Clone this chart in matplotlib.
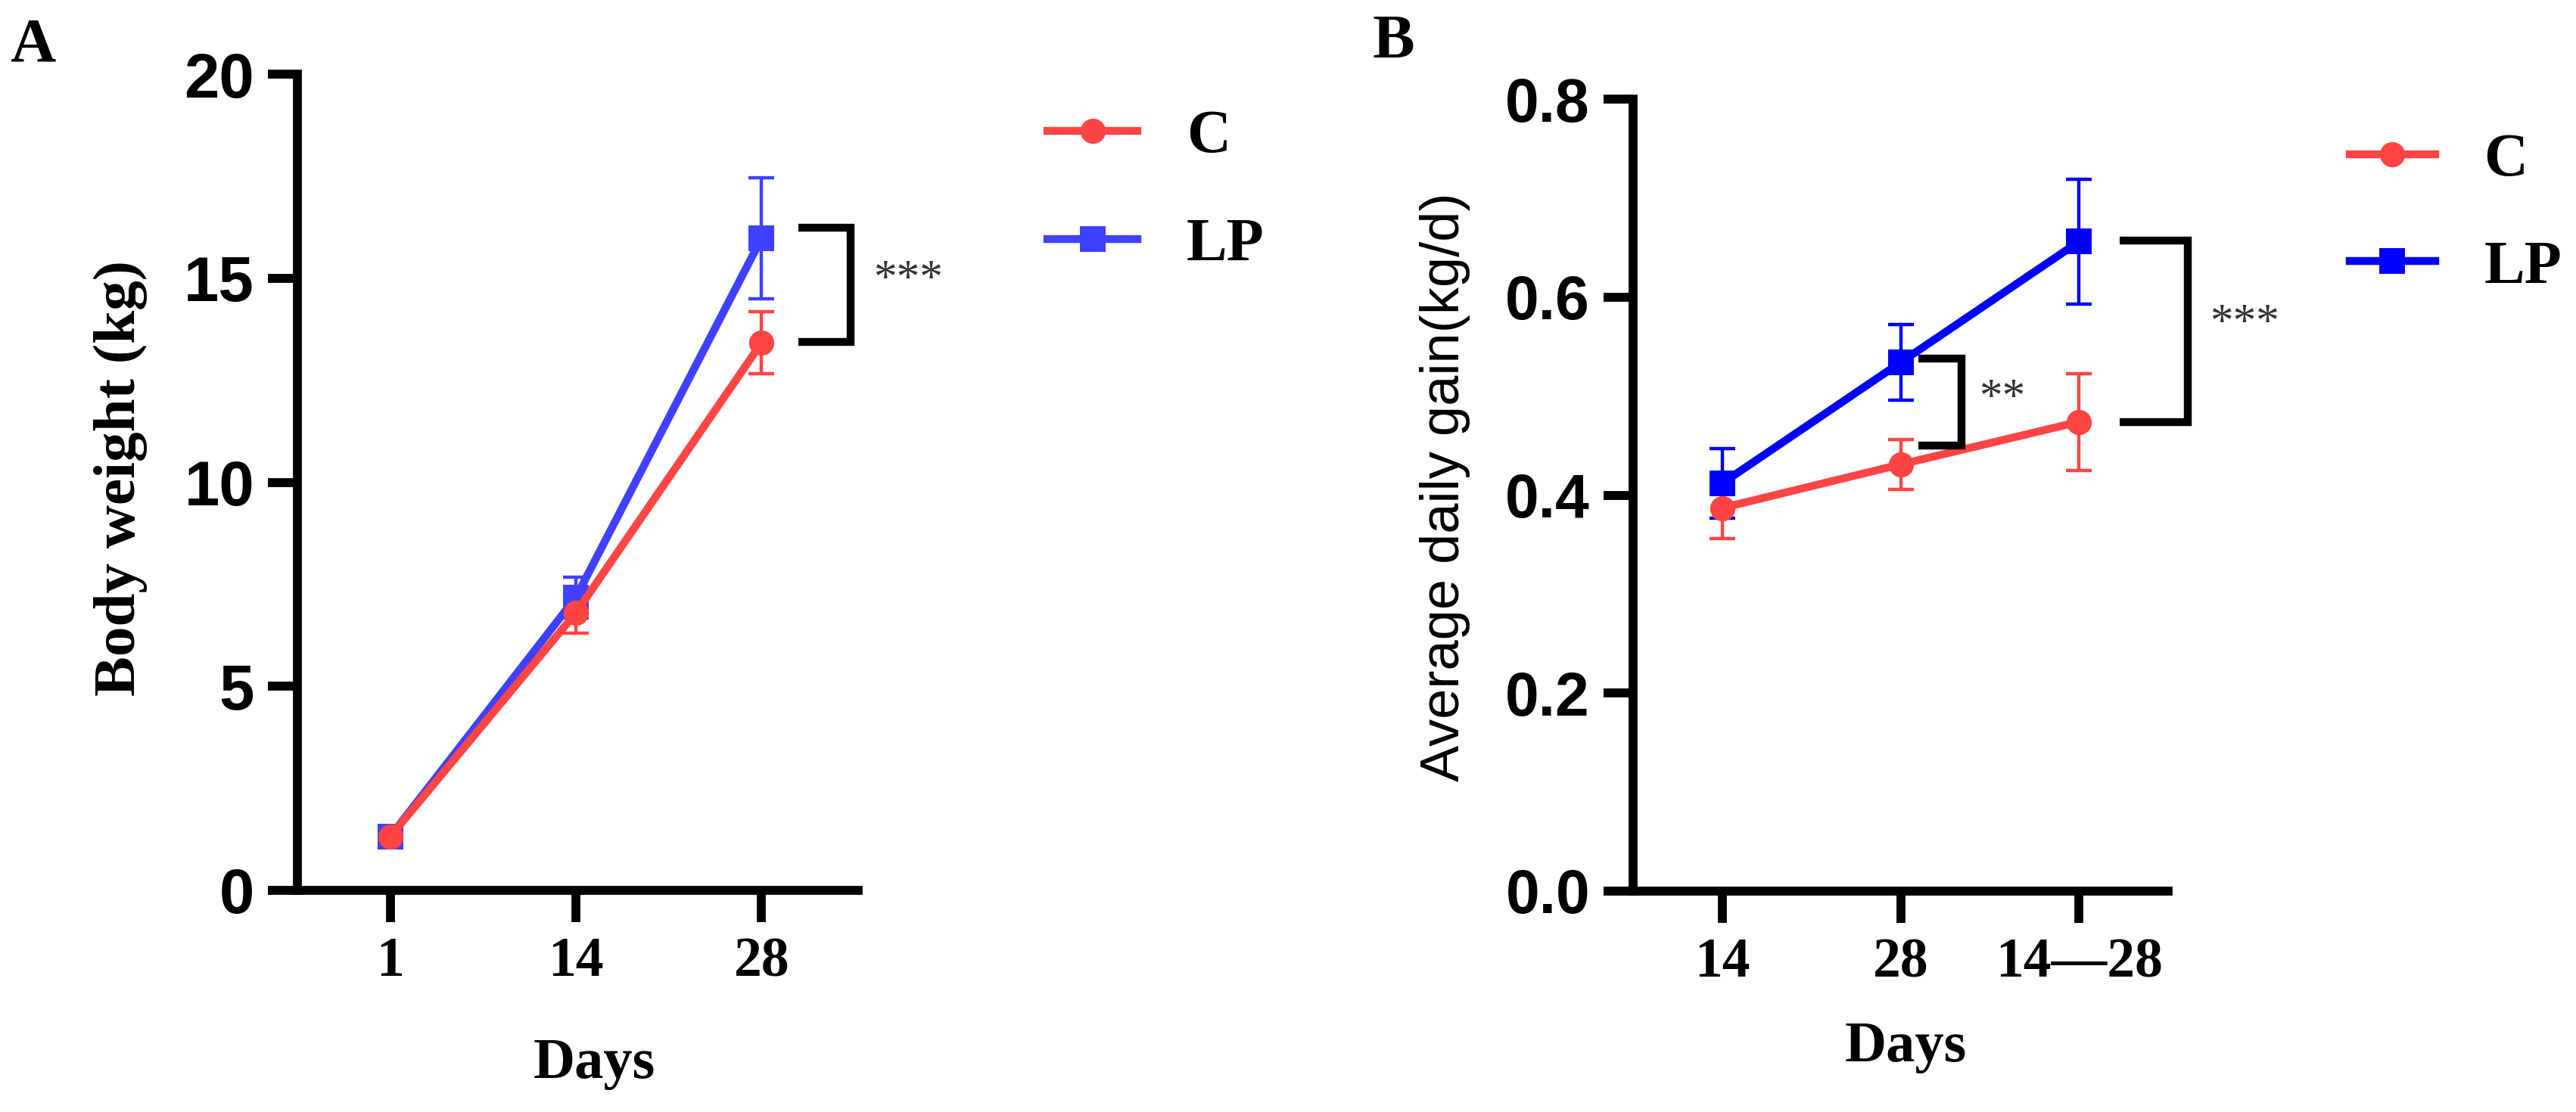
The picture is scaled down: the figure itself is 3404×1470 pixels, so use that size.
import matplotlib
matplotlib.use("Agg")
import matplotlib.pyplot as plt

# ---- data ----
days_a = ["1", "14", "28"]
c_weight = [1.32, 6.8, 13.42]
c_weight_err = [0.12, 0.5, 0.76]
lp_weight = [1.32, 7.18, 15.98]
lp_weight_err = [0.12, 0.5, 1.48]

days_b = ["14", "28", "14\u201428"]
c_adg = [0.387, 0.431, 0.474]
c_adg_err = [0.031, 0.025, 0.049]
lp_adg = [0.412, 0.534, 0.656]
lp_adg_err = [0.035, 0.038, 0.063]

RED = "#FF4444"
BLUE_A = "#4040FF"
BLUE_B = "#0000FF"
SERIF = "Liberation Serif"
SANS = "Liberation Sans"

W, H = 3404, 1470
fig = plt.figure(figsize=(W / 100, H / 100), dpi=100)


def px_axes(left, right, top, bottom):
    return fig.add_axes([left / W, 1 - bottom / H, (right - left) / W, (bottom - top) / H])


def style_axes(ax, labels, ytick_size):
    for s in ["top", "right"]:
        ax.spines[s].set_visible(False)
    for s in ["left", "bottom"]:
        ax.spines[s].set_linewidth(8.5)
    ax.set_xticks(range(len(labels)))
    ax.set_xticklabels(labels, fontfamily=SERIF, fontweight="bold", fontsize=53)
    ax.tick_params(axis="x", length=30, width=8.5, pad=14)
    ax.tick_params(axis="y", length=28, width=8.5, pad=13)
    for t in ax.get_yticklabels():
        t.set_fontfamily(SANS)
        t.set_fontweight("bold")
        t.set_fontsize(ytick_size)


def draw_series(ax, y, err, color, marker):
    x = range(len(y))
    ax.errorbar(x, y, yerr=err, fmt="none", ecolor=color, elinewidth=3.2,
                capsize=12, capthick=3.2, zorder=3)
    line, = ax.plot(x, y, color=color, lw=7.5, marker=marker, markersize=24,
                    markeredgewidth=0, zorder=4)
    return line


def bracket(ax, x0, x1, y0, y1):
    ax.plot([x0, x1, x1, x0], [y1, y1, y0, y0], color="black", lw=7.5,
            solid_joinstyle="miter", solid_capstyle="butt", clip_on=False, zorder=5)


def stars(ax, x, y, s):
    ax.text(x, y, s, fontfamily=SERIF, fontsize=44, color="#333333",
            ha="center", va="center", clip_on=False)


# ---- panel A ----
axA = px_axes(393, 1134, 98, 1177)
lpA = draw_series(axA, lp_weight, lp_weight_err, BLUE_A, "s")
cA = draw_series(axA, c_weight, c_weight_err, RED, "o")
axA.set_xlim(-0.5, 2.52)
axA.set_ylim(0, 20)
axA.set_yticks([0, 5, 10, 15, 20])
style_axes(axA, days_a, 60)
axA.set_ylabel("Body weight (kg)", fontfamily=SERIF, fontweight="bold", fontsize=57)
axA.yaxis.set_label_coords(-0.267, 0.505)
axA.set_xlabel("Days", fontfamily=SERIF, fontweight="bold", fontsize=55)
axA.xaxis.set_label_coords(0.529, -0.181)
bracket(axA, 2.2, 2.48, 13.43, 16.24)
stars(axA, 2.79, 14.95, "***")
axA.legend([cA, lpA], ["C", "LP"], loc="center left",
           bbox_to_anchor=(1384 / W, 1 - 253 / H), bbox_transform=fig.transFigure,
           frameon=False, borderpad=0, borderaxespad=0, handlelength=1.48,
           handletextpad=0.8, labelspacing=0.87,
           prop={"family": SERIF, "weight": "bold", "size": 58})
fig.text(43 / W, 1 - 61 / H, "A", fontfamily=SERIF, fontweight="bold", fontsize=60,
         ha="center", va="center")

# ---- panel B ----
axB = px_axes(2158, 2865, 131, 1178)
lpB = draw_series(axB, lp_adg, lp_adg_err, BLUE_B, "s")
cB = draw_series(axB, c_adg, c_adg_err, RED, "o")
axB.set_xlim(-0.5, 2.5)
axB.set_ylim(0, 0.8)
axB.set_yticks([0.0, 0.2, 0.4, 0.6, 0.8])
axB.set_yticklabels(["0.0", "0.2", "0.4", "0.6", "0.8"])
style_axes(axB, days_b, 58)
axB.set_ylabel("Average daily gain(kg/d)", fontfamily=SANS, fontsize=52)
axB.yaxis.set_label_coords(-0.304, 0.51)
axB.set_xlabel("Days", fontfamily=SERIF, fontweight="bold", fontsize=55)
axB.xaxis.set_label_coords(0.509, -0.164)
bracket(axB, 1.10, 1.34, 0.450, 0.538)
stars(axB, 1.57, 0.497, "**")
bracket(axB, 2.23, 2.61, 0.474, 0.657)
stars(axB, 2.93, 0.573, "***")
axB.legend([cB, lpB], ["C", "LP"], loc="center left",
           bbox_to_anchor=(3105 / W, 1 - 283 / H), bbox_transform=fig.transFigure,
           frameon=False, borderpad=0, borderaxespad=0, handlelength=1.4,
           handletextpad=0.8, labelspacing=0.85,
           prop={"family": SERIF, "weight": "bold", "size": 58})
fig.text(1841 / W, 1 - 56 / H, "B", fontfamily=SERIF, fontweight="bold", fontsize=60,
         ha="center", va="center")

fig.savefig("out.png", dpi=100, facecolor="white")
